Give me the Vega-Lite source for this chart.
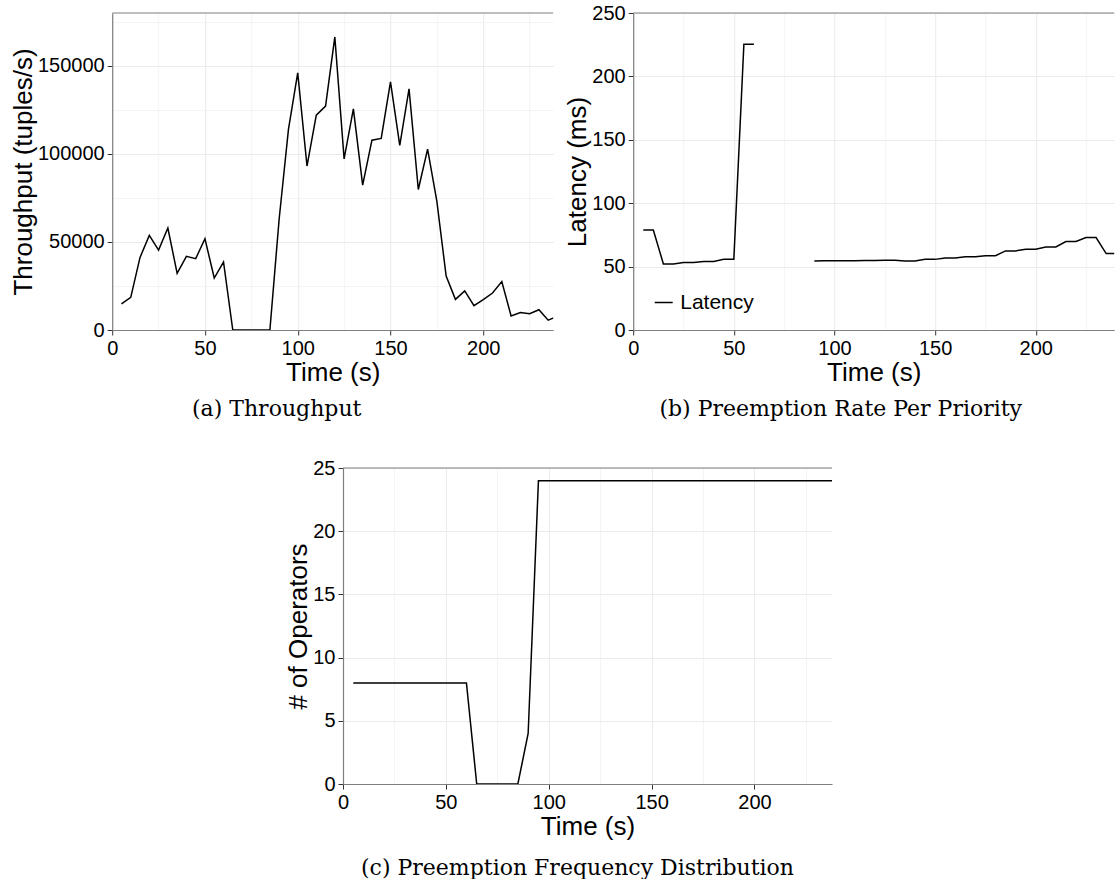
{
  "$schema": "https://vega.github.io/schema/vega-lite/v6.json",
  "background": "white",
  "padding": {"left": 10, "top": 3, "right": 0, "bottom": 0},
  "config": {
    "view": {"stroke": null},
    "font": "Liberation Sans",
    "axis": {
      "labelFont": "Liberation Sans",
      "labelFontSize": 20,
      "labelColor": "#000000",
      "titleFont": "Liberation Sans",
      "titleFontSize": 26,
      "titleFontWeight": "normal",
      "titleColor": "#000000",
      "domainColor": "#7f7f7f",
      "domainWidth": 1.2,
      "tickColor": "#333333",
      "tickSize": 5,
      "tickWidth": 1,
      "labelPadding": 3,
      "titlePadding": 1,
      "gridWidth": 1,
      "labelOverlap": false,
      "labelFlush": false
    },
    "title": {
      "font": "DejaVu Serif",
      "fontSize": 22,
      "fontWeight": "normal",
      "color": "#000000",
      "orient": "bottom",
      "offset": 14
    }
  },
  "datasets": {
    "thr": [
      {"t": 5, "v": 14800}, {"t": 10, "v": 18500}, {"t": 15, "v": 41200}, {"t": 20, "v": 53700},
      {"t": 25, "v": 45400}, {"t": 30, "v": 57900}, {"t": 35, "v": 32200}, {"t": 40, "v": 41800},
      {"t": 45, "v": 40500}, {"t": 50, "v": 51800}, {"t": 55, "v": 29500}, {"t": 60, "v": 38600},
      {"t": 65, "v": 0}, {"t": 70, "v": 0}, {"t": 75, "v": 0}, {"t": 80, "v": 0}, {"t": 85, "v": 0},
      {"t": 90, "v": 63200}, {"t": 95, "v": 113900}, {"t": 100, "v": 146000}, {"t": 105, "v": 93100},
      {"t": 110, "v": 122000}, {"t": 115, "v": 127100}, {"t": 120, "v": 166400}, {"t": 125, "v": 97200},
      {"t": 130, "v": 125600}, {"t": 135, "v": 82300}, {"t": 140, "v": 107800}, {"t": 145, "v": 108800},
      {"t": 150, "v": 140900}, {"t": 155, "v": 104800}, {"t": 160, "v": 136900}, {"t": 165, "v": 79800},
      {"t": 170, "v": 102700}, {"t": 175, "v": 73000}, {"t": 180, "v": 30600}, {"t": 185, "v": 17400},
      {"t": 190, "v": 22200}, {"t": 195, "v": 13800}, {"t": 200, "v": 17200}, {"t": 205, "v": 21000},
      {"t": 210, "v": 27500}, {"t": 215, "v": 8000}, {"t": 220, "v": 9900}, {"t": 225, "v": 9200},
      {"t": 230, "v": 11500}, {"t": 235, "v": 5600}, {"t": 240, "v": 7800}
    ],
    "lat": [
      {"t": 5, "v": 78.9, "seg": 1, "series": "Latency"}, {"t": 10, "v": 78.9, "seg": 1, "series": "Latency"},
      {"t": 15, "v": 52.1, "seg": 1, "series": "Latency"}, {"t": 20, "v": 52.1, "seg": 1, "series": "Latency"},
      {"t": 25, "v": 53.2, "seg": 1, "series": "Latency"}, {"t": 30, "v": 53.2, "seg": 1, "series": "Latency"},
      {"t": 35, "v": 54.0, "seg": 1, "series": "Latency"}, {"t": 40, "v": 54.0, "seg": 1, "series": "Latency"},
      {"t": 45, "v": 55.8, "seg": 1, "series": "Latency"}, {"t": 50, "v": 55.8, "seg": 1, "series": "Latency"},
      {"t": 55, "v": 225.4, "seg": 1, "series": "Latency"}, {"t": 60, "v": 225.4, "seg": 1, "series": "Latency"},
      {"t": 90, "v": 54.5, "seg": 2, "series": "Latency"}, {"t": 95, "v": 54.6, "seg": 2, "series": "Latency"},
      {"t": 100, "v": 54.6, "seg": 2, "series": "Latency"}, {"t": 105, "v": 54.7, "seg": 2, "series": "Latency"},
      {"t": 110, "v": 54.7, "seg": 2, "series": "Latency"}, {"t": 115, "v": 54.8, "seg": 2, "series": "Latency"},
      {"t": 120, "v": 54.8, "seg": 2, "series": "Latency"}, {"t": 125, "v": 55.0, "seg": 2, "series": "Latency"},
      {"t": 130, "v": 55.0, "seg": 2, "series": "Latency"}, {"t": 135, "v": 54.5, "seg": 2, "series": "Latency"},
      {"t": 140, "v": 54.5, "seg": 2, "series": "Latency"}, {"t": 145, "v": 55.7, "seg": 2, "series": "Latency"},
      {"t": 150, "v": 55.7, "seg": 2, "series": "Latency"}, {"t": 155, "v": 56.8, "seg": 2, "series": "Latency"},
      {"t": 160, "v": 56.8, "seg": 2, "series": "Latency"}, {"t": 165, "v": 57.8, "seg": 2, "series": "Latency"},
      {"t": 170, "v": 57.8, "seg": 2, "series": "Latency"}, {"t": 175, "v": 58.6, "seg": 2, "series": "Latency"},
      {"t": 180, "v": 58.6, "seg": 2, "series": "Latency"}, {"t": 185, "v": 62.4, "seg": 2, "series": "Latency"},
      {"t": 190, "v": 62.4, "seg": 2, "series": "Latency"}, {"t": 195, "v": 63.7, "seg": 2, "series": "Latency"},
      {"t": 200, "v": 63.7, "seg": 2, "series": "Latency"}, {"t": 205, "v": 65.5, "seg": 2, "series": "Latency"},
      {"t": 210, "v": 65.5, "seg": 2, "series": "Latency"}, {"t": 215, "v": 69.8, "seg": 2, "series": "Latency"},
      {"t": 220, "v": 69.8, "seg": 2, "series": "Latency"}, {"t": 225, "v": 72.9, "seg": 2, "series": "Latency"},
      {"t": 230, "v": 72.9, "seg": 2, "series": "Latency"}, {"t": 235, "v": 60.3, "seg": 2, "series": "Latency"},
      {"t": 240, "v": 60.3, "seg": 2, "series": "Latency"}
    ],
    "ops": [
      {"t": 5, "v": 8}, {"t": 10, "v": 8}, {"t": 15, "v": 8}, {"t": 20, "v": 8}, {"t": 25, "v": 8},
      {"t": 30, "v": 8}, {"t": 35, "v": 8}, {"t": 40, "v": 8}, {"t": 45, "v": 8}, {"t": 50, "v": 8},
      {"t": 55, "v": 8}, {"t": 60, "v": 8}, {"t": 65, "v": 0}, {"t": 70, "v": 0}, {"t": 75, "v": 0},
      {"t": 80, "v": 0}, {"t": 85, "v": 0}, {"t": 90, "v": 4}, {"t": 95, "v": 24}, {"t": 100, "v": 24},
      {"t": 105, "v": 24}, {"t": 110, "v": 24}, {"t": 115, "v": 24}, {"t": 120, "v": 24}, {"t": 125, "v": 24},
      {"t": 130, "v": 24}, {"t": 135, "v": 24}, {"t": 140, "v": 24}, {"t": 145, "v": 24}, {"t": 150, "v": 24},
      {"t": 155, "v": 24}, {"t": 160, "v": 24}, {"t": 165, "v": 24}, {"t": 170, "v": 24}, {"t": 175, "v": 24},
      {"t": 180, "v": 24}, {"t": 185, "v": 24}, {"t": 190, "v": 24}, {"t": 195, "v": 24}, {"t": 200, "v": 24},
      {"t": 205, "v": 24}, {"t": 210, "v": 24}, {"t": 215, "v": 24}, {"t": 220, "v": 24}, {"t": 225, "v": 24},
      {"t": 230, "v": 24}, {"t": 235, "v": 24}, {"t": 240, "v": 24}
    ]
  },
  "spacing": 38,
  "center": true,
  "vconcat": [
    {
      "bounds": "flush",
      "spacing": 80,
      "resolve": {"legend": {"color": "independent"}},
      "hconcat": [
        {
          "width": 441,
          "height": 317,
          "title": {"text": "(a) Throughput", "dx": -56},
          "layer": [
            {
              "data": {"name": "thr"},
              "mark": {"type": "line", "color": "#000000", "strokeWidth": 1.5, "clip": true},
              "encoding": {
                "x": {
                  "field": "t", "type": "quantitative", "title": "Time (s)",
                  "scale": {"domain": [0, 237.7], "nice": false, "zero": false},
                  "axis": {
                    "values": [0, 25, 50, 75, 100, 125, 150, 175, 200, 225],
                    "labelExpr": "datum.value % 50 === 0 ? datum.label : ''",
                    "tickOpacity": {"condition": {"test": "datum.value % 50 !== 0", "value": 0}, "value": 1},
                    "gridColor": {"condition": {"test": "datum.value % 50 !== 0", "value": "#f4f4f4"}, "value": "#ebebeb"}
                  }
                },
                "y": {
                  "field": "v", "type": "quantitative", "title": "Throughput (tuples/s)",
                  "scale": {"domain": [0, 180000], "nice": false},
                  "axis": {
                    "values": [0, 25000, 50000, 75000, 100000, 125000, 150000, 175000],
                    "format": "d",
                    "labelExpr": "datum.value % 50000 === 0 ? datum.label : ''",
                    "tickOpacity": {"condition": {"test": "datum.value % 50000 !== 0", "value": 0}, "value": 1},
                    "gridColor": {"condition": {"test": "datum.value % 50000 !== 0", "value": "#f4f4f4"}, "value": "#ebebeb"}
                  }
                }
              }
            },
            {
              "data": {"values": [{}]},
              "mark": {"type": "rule", "color": "#7f7f7f", "strokeWidth": 1.2},
              "encoding": {"y": {"datum": 180000}}
            }
          ]
        },
        {
          "width": 481,
          "height": 317,
          "title": {"text": "(b) Preemption Rate Per Priority", "dx": -33},
          "layer": [
            {
              "data": {"name": "lat"},
              "mark": {"type": "line", "strokeWidth": 1.5, "clip": true},
              "encoding": {
                "x": {
                  "field": "t", "type": "quantitative", "title": "Time (s)",
                  "scale": {"domain": [0, 239], "nice": false, "zero": false},
                  "axis": {
                    "values": [0, 25, 50, 75, 100, 125, 150, 175, 200, 225],
                    "labelExpr": "datum.value % 50 === 0 ? datum.label : ''",
                    "tickOpacity": {"condition": {"test": "datum.value % 50 !== 0", "value": 0}, "value": 1},
                    "gridColor": {"condition": {"test": "datum.value % 50 !== 0", "value": "#f4f4f4"}, "value": "#ebebeb"}
                  }
                },
                "y": {
                  "field": "v", "type": "quantitative", "title": "Latency (ms)",
                  "scale": {"domain": [0, 250], "nice": false},
                  "axis": {
                    "values": [0, 25, 50, 75, 100, 125, 150, 175, 200, 225, 250],
                    "labelExpr": "datum.value % 50 === 0 ? datum.label : ''",
                    "tickOpacity": {"condition": {"test": "datum.value % 50 !== 0", "value": 0}, "value": 1},
                    "gridColor": {"condition": {"test": "datum.value % 50 !== 0", "value": "#f4f4f4"}, "value": "#ebebeb"}
                  }
                },
                "detail": {"field": "seg", "type": "nominal"},
                "color": {
                  "field": "series", "type": "nominal",
                  "scale": {"range": ["#000000"]},
                  "legend": {
                    "orient": "none", "legendX": 20, "legendY": 279, "title": null,
                    "symbolType": "stroke", "symbolSize": 324, "symbolStrokeWidth": 1.5,
                    "labelFontSize": 21, "labelFont": "Liberation Sans", "labelColor": "#000000",
                    "labelOffset": 6, "padding": 0
                  }
                }
              }
            },
            {
              "data": {"values": [{}]},
              "mark": {"type": "rule", "color": "#7f7f7f", "strokeWidth": 1.2},
              "encoding": {"y": {"datum": 250}}
            }
          ]
        }
      ]
    },
    {
      "bounds": "flush",
      "spacing": 51,
      "hconcat": [
        {
          "width": 489,
          "height": 316,
          "title": {"text": "(c) Preemption Frequency Distribution", "dx": -10, "offset": 19},
          "layer": [
            {
              "data": {"name": "ops"},
              "mark": {"type": "line", "color": "#000000", "strokeWidth": 1.5, "clip": true},
              "encoding": {
                "x": {
                  "field": "t", "type": "quantitative", "title": "Time (s)",
                  "scale": {"domain": [0, 237.7], "nice": false, "zero": false},
                  "axis": {
                    "values": [0, 25, 50, 75, 100, 125, 150, 175, 200, 225],
                    "labelExpr": "datum.value % 50 === 0 ? datum.label : ''",
                    "tickOpacity": {"condition": {"test": "datum.value % 50 !== 0", "value": 0}, "value": 1},
                    "gridColor": {"condition": {"test": "datum.value % 50 !== 0", "value": "#f4f4f4"}, "value": "#ebebeb"}
                  }
                },
                "y": {
                  "field": "v", "type": "quantitative", "title": "# of Operators",
                  "scale": {"domain": [0, 25], "nice": false},
                  "axis": {
                    "values": [0, 2.5, 5, 7.5, 10, 12.5, 15, 17.5, 20, 22.5, 25],
                    "labelExpr": "datum.value % 5 === 0 ? datum.label : ''",
                    "tickOpacity": {"condition": {"test": "datum.value % 5 !== 0", "value": 0}, "value": 1},
                    "gridColor": {"condition": {"test": "datum.value % 5 !== 0", "value": "#f4f4f4"}, "value": "#ebebeb"}
                  }
                }
              }
            },
            {
              "data": {"values": [{}]},
              "mark": {"type": "rule", "color": "#7f7f7f", "strokeWidth": 1.2},
              "encoding": {"y": {"datum": 25}}
            }
          ]
        },
        {
          "width": 1,
          "height": 1,
          "data": {"values": []},
          "mark": "point",
          "encoding": {}
        }
      ]
    }
  ]
}
